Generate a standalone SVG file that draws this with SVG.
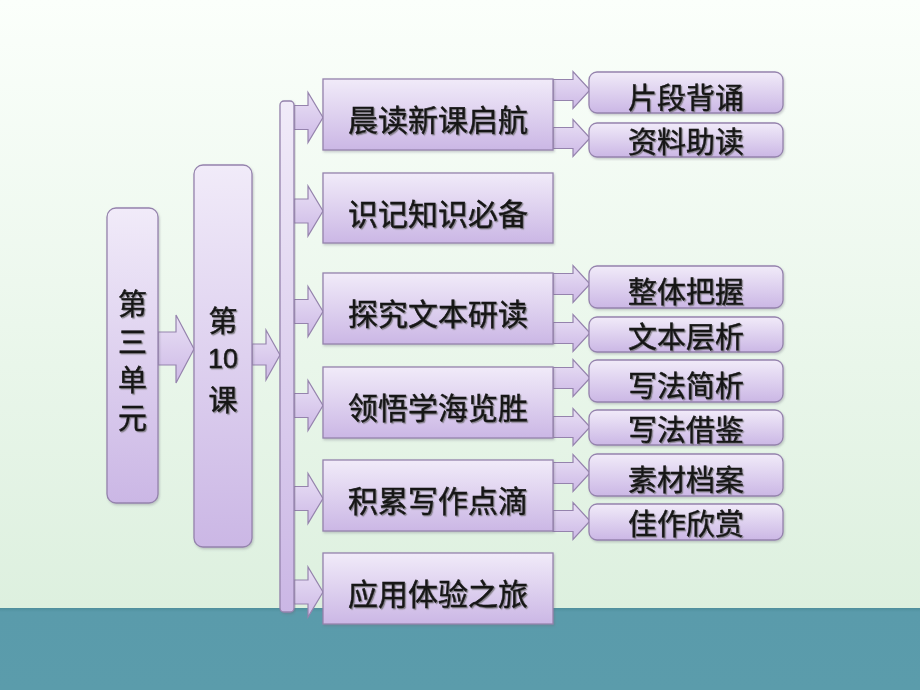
<svg xmlns="http://www.w3.org/2000/svg" width="920" height="690" viewBox="0 0 920 690">
<defs>
<linearGradient id="bg" x1="0" y1="0" x2="0" y2="1">
<stop offset="0" stop-color="#fbfffb"/>
<stop offset="1" stop-color="#d9eedb"/>
</linearGradient>
<linearGradient id="teal" x1="0" y1="0" x2="0" y2="1">
<stop offset="0" stop-color="#4f8f9c"/>
<stop offset="0.05" stop-color="#5a9bab"/>
<stop offset="1" stop-color="#5b9cab"/>
</linearGradient>
<linearGradient id="box" x1="0" y1="0" x2="0" y2="1">
<stop offset="0" stop-color="#f1ebf9"/>
<stop offset="1" stop-color="#cbb7e5"/>
</linearGradient>
<linearGradient id="arr" x1="0" y1="0" x2="0" y2="1">
<stop offset="0" stop-color="#e9e0f5"/>
<stop offset="1" stop-color="#cdb9e6"/>
</linearGradient>
<filter id="ts" x="-10%" y="-20%" width="130%" height="150%">
<feDropShadow dx="1.2" dy="1.2" stdDeviation="0.6" flood-color="#666" flood-opacity="0.7"/>
</filter>
<filter id="bs" x="-5%" y="-5%" width="115%" height="115%">
<feDropShadow dx="1" dy="1.5" stdDeviation="1.2" flood-color="#6a6a7a" flood-opacity="0.35"/>
</filter>
</defs>
<style>
.bx{fill:url(#box);stroke:#9583ad;stroke-width:1.3;filter:url(#bs)}
.ar{fill:url(#arr);stroke:#9583ad;stroke-width:1.2}
.t{font-family:"Noto Sans CJK SC","Noto Sans",sans-serif;font-size:30px;fill:#141414;stroke:#141414;stroke-width:0.5;text-anchor:middle;dominant-baseline:central;filter:url(#ts)}
.ts{font-size:29px}
.num{font-family:"Liberation Sans",sans-serif;font-size:27px}
</style>
<rect x="0" y="0" width="920" height="690" fill="url(#bg)"/>
<rect x="0" y="608" width="920" height="82" fill="url(#teal)"/>

<g id="connectors">
<path class="ar" d="M158,332 H176 V315 L194,349 L176,383 V365 H158 Z"/>
<path class="ar" d="M252,344 H266 V330 L280,355 L266,380 V365 H252 Z"/>
<path class="ar" d="M294,105.5 H308 V92.5 L323,117.5 L308,142.5 V129.5 H294 Z"/>
<path class="ar" d="M294,199 H308 V186 L323,211 L308,236 V223 H294 Z"/>
<path class="ar" d="M294,299.5 H308 V286.5 L323,311.5 L308,336.5 V323.5 H294 Z"/>
<path class="ar" d="M294,393.5 H308 V380.5 L323,405.5 L308,430.5 V417.5 H294 Z"/>
<path class="ar" d="M294,486.5 H308 V473.5 L323,498.5 L308,523.5 V510.5 H294 Z"/>
<path class="ar" d="M294,580 H308 V567 L323,592 L308,617 V604 H294 Z"/>
<path class="ar" d="M553,79.5 H573 V71.5 L590,90 L573,108.5 V100.5 H553 Z"/>
<path class="ar" d="M553,127.5 H573 V119.5 L590,138 L573,156.5 V148.5 H553 Z"/>
<path class="ar" d="M553,273.5 H573 V265.5 L590,284 L573,302.5 V294.5 H553 Z"/>
<path class="ar" d="M553,322.5 H573 V314.5 L590,333 L573,351.5 V343.5 H553 Z"/>
<path class="ar" d="M553,367.5 H573 V359.5 L590,378 L573,396.5 V388.5 H553 Z"/>
<path class="ar" d="M553,416.5 H573 V408.5 L590,427 L573,445.5 V437.5 H553 Z"/>
<path class="ar" d="M553,462.5 H573 V454.5 L590,473 L573,491.5 V483.5 H553 Z"/>
<path class="ar" d="M553,510.5 H573 V502.5 L590,521 L573,539.5 V531.5 H553 Z"/>
</g>

<g id="unit">
<rect class="bx" x="107" y="208" width="51" height="295" rx="9"/>
<text class="t ts" x="132.5" y="302">第</text>
<text class="t ts" x="132.5" y="340">三</text>
<text class="t ts" x="132.5" y="378">单</text>
<text class="t ts" x="132.5" y="416">元</text>
</g>
<g id="lesson">
<rect class="bx" x="194" y="165" width="58" height="382" rx="9"/>
<text class="t ts" x="223" y="319">第</text>
<text class="t num" x="223" y="359">10</text>
<text class="t ts" x="223" y="398">课</text>
</g>
<g id="bar">
<rect class="bx" x="280" y="101" width="14" height="511" rx="4"/>
</g>

<g id="m1"><rect class="bx" x="323" y="79" width="230" height="71"/><text class="t" x="438" y="118">晨读新课启航</text></g>
<g id="m2"><rect class="bx" x="323" y="173" width="230" height="70"/><text class="t" x="438" y="212">识记知识必备</text></g>
<g id="m3"><rect class="bx" x="323" y="273" width="230" height="71"/><text class="t" x="438" y="312">探究文本研读</text></g>
<g id="m4"><rect class="bx" x="323" y="367" width="230" height="71"/><text class="t" x="438" y="406">领悟学海览胜</text></g>
<g id="m5"><rect class="bx" x="323" y="460" width="230" height="71"/><text class="t" x="438" y="499">积累写作点滴</text></g>
<g id="m6"><rect class="bx" x="323" y="553" width="230" height="71"/><text class="t" x="438" y="592">应用体验之旅</text></g>

<g id="r1"><rect class="bx" x="589" y="72" width="194" height="41" rx="8"/><text class="t ts" x="686" y="96">片段背诵</text></g>
<g id="r2"><rect class="bx" x="589" y="123" width="194" height="34" rx="8"/><text class="t ts" x="686" y="140">资料助读</text></g>
<g id="r3"><rect class="bx" x="589" y="266" width="194" height="42" rx="8"/><text class="t ts" x="686" y="290">整体把握</text></g>
<g id="r4"><rect class="bx" x="589" y="317" width="194" height="35" rx="8"/><text class="t ts" x="686" y="335">文本层析</text></g>
<g id="r5"><rect class="bx" x="589" y="360" width="194" height="42" rx="8"/><text class="t ts" x="686" y="384">写法简析</text></g>
<g id="r6"><rect class="bx" x="589" y="410" width="194" height="35" rx="8"/><text class="t ts" x="686" y="428">写法借鉴</text></g>
<g id="r7"><rect class="bx" x="589" y="454" width="194" height="42" rx="8"/><text class="t ts" x="686" y="478">素材档案</text></g>
<g id="r8"><rect class="bx" x="589" y="504" width="194" height="36" rx="8"/><text class="t ts" x="686" y="522">佳作欣赏</text></g>
</svg>
